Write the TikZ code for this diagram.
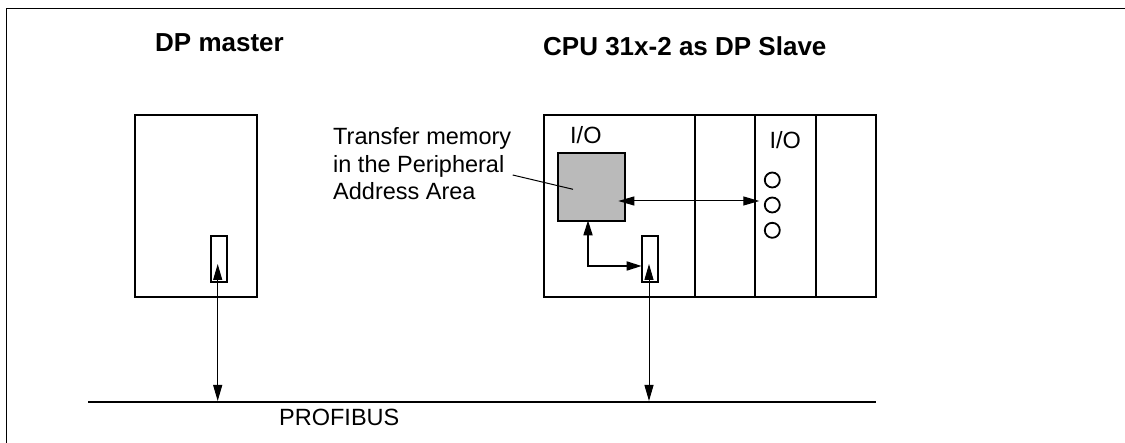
\documentclass[tikz,border=0pt]{standalone}
\usepackage{fontspec}
\setmainfont{Liberation Sans}
\usetikzlibrary{arrows.meta}
\tikzset{
  x=1pt,y=-1pt,
  unit/.style={draw,line width=2pt,inner sep=0pt,anchor=north west,line join=miter},
  port/.style={draw,line width=2pt,inner sep=0pt,anchor=north west,minimum width=16pt,minimum height=46pt},
  led/.style={draw,circle,line width=1.8pt,inner sep=0pt,minimum size=15pt},
  link/.style={line width=1pt,{Triangle[length=16pt,width=9pt]}-{Triangle[length=16pt,width=9pt]}},
  thicklink/.style={line width=1.7pt,{Triangle[length=15pt,width=9pt]}-{Triangle[length=15pt,width=9pt]}},
  title/.style={font=\bfseries\fontsize{26}{30}\selectfont,inner sep=0pt,anchor=base west},
  label/.style={font=\fontsize{23.5}{28}\selectfont,inner sep=0pt,anchor=base west}
}
\begin{document}
\begin{tikzpicture}
\useasboundingbox (0,0) rectangle (1125,443);
\draw[line width=1.5pt] (6.7,443) -- (6.7,8.5) -- (1125,8.5);
% units
\node[unit,minimum width=121.7pt,minimum height=182pt] (master) at (134,114) {};
\node[unit,minimum width=151pt,minimum height=182pt] (cpu) at (542.7,114) {};
\node[unit,minimum width=60.3pt,minimum height=182pt] (mod1) at (693.7,114) {};
\node[unit,minimum width=60.7pt,minimum height=182pt] (mod2) at (754,114) {};
\node[unit,minimum width=60.3pt,minimum height=182pt] (mod3) at (814.7,114) {};
\node[unit,fill=black!27,minimum width=66.4pt,minimum height=68pt] (mem) at (557.3,152.3) {};
\node[port] (pm) at (210,235) {};
\node[port] (ps) at (641,235) {};
\node[led] (l1) at (772.3,180) {};
\node[led] (l2) at (772.3,205) {};
\node[led] (l3) at (772.3,230.3) {};
% bus
\coordinate (busl) at (88,401.7);
\coordinate (busr) at (876,401.7);
\draw[line width=1.8pt] (busl) -- (busr);
\coordinate (bm) at (217.7,401);
\coordinate (bs) at (649,401);
\coordinate (pmi) at (217.7,264);
\coordinate (psi) at (649,264);
\draw[link] (pmi) -- (bm);
\draw[link] (psi) -- (bs);
% internal links
\coordinate (memr) at (618.3,201);
\coordinate (ledl) at (759.3,201);
\draw[link] (memr) -- (ledl);
\coordinate (memb) at (588,220.3);
\coordinate (psl) at (641.7,266);
\draw[thicklink] (memb) |- (psl);
% labels
\node[title] (t1) at (155,51.5) {DP master};
\node[title] (t2) at (543,56) {CPU 31x-2 as DP Slave};
\node[label] (io1) at (570,143.3) {I/O};
\node[label] (io2) at (769.3,149) {I/O};
\node[label] (tm) at (333,144.3) {Transfer memory};
\node[label] (tm2) at (333,172.3) {in the Peripheral};
\node[label] (tm3) at (333,200) {Address Area};
\node[label] (bus) at (279,426) {PROFIBUS};
\coordinate (lead) at (573,189.3);
\coordinate (leads) at (512.7,175);
\draw[line width=1pt] (leads) -- (lead);
\end{tikzpicture}
\end{document}
